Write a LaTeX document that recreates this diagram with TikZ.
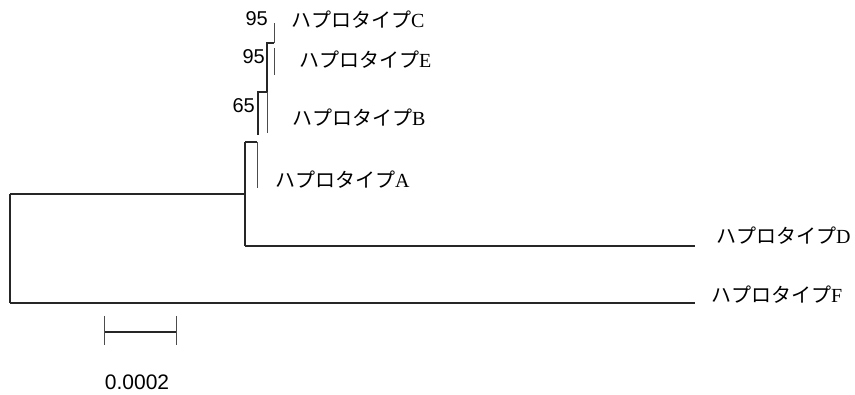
\documentclass[tikz,border=0pt]{standalone}
\usepackage{fontspec}
\setmainfont{Liberation Serif}
\newfontfamily\jpfont{Noto Sans CJK JP}
\newfontfamily\numfont{Liberation Sans}
\begin{document}
\begin{tikzpicture}[x=1pt,y=-1pt,
  br/.style={line width=1.1pt,black!85},
  lf/.style={line width=1pt,black!70},
  hap/.style={anchor=west,inner sep=0pt,font=\fontsize{20}{24}\selectfont},
  boot/.style={anchor=east,inner sep=0pt,font=\numfont\fontsize{20}{24}\selectfont},
  sc/.style={anchor=center,inner sep=0pt,font=\numfont\fontsize{21}{25}\selectfont}]
\useasboundingbox (0,0) rectangle (855,395);
% tree coordinates
\coordinate (rt) at (10,194);
\coordinate (rb) at (10,303);
\coordinate (n1) at (245,194);
\coordinate (n1t) at (245,142);
\coordinate (n1b) at (245,246);
\coordinate (Dend) at (695,246);
\coordinate (Fend) at (695,303);
\coordinate (Atop) at (257,142);
\coordinate (Abot) at (257,188);
\coordinate (Bl) at (258,135);
\coordinate (Btl) at (258,92);
\coordinate (Btr) at (267,92);
\coordinate (Bbot) at (267,133);
\coordinate (s1) at (267,43);
\coordinate (s2) at (274,43);
\coordinate (Ctop) at (274,23);
\coordinate (Et) at (274,48);
\coordinate (Eb) at (274,75);
% branches
\draw[br] (rt) -- (rb);
\draw[br] (rt) -- (n1);
\draw[br] (rb) -- (Fend);
\draw[br] (n1t) -- (n1b);
\draw[br] (n1b) -- (Dend);
\draw[br] (n1t) -- (Atop);
\draw[lf] (Atop) -- (Abot);
\draw[br] (Bl) -- (Btl) -- (Btr);
\draw[lf] (Btr) -- (Bbot);
\draw[br] (Btr) -- (s1) -- (s2);
\draw[lf] (s2) -- (Ctop);
\draw[lf] (Et) -- (Eb);
% labels
\node[hap] (lC) at (291,20) {{\jpfont ハプロタイプ}C};
\node[hap] (lE) at (299,60) {{\jpfont ハプロタイプ}E};
\node[hap] (lB) at (292,118) {{\jpfont ハプロタイプ}B};
\node[hap] (lA) at (275,180) {{\jpfont ハプロタイプ}A};
\node[hap] (lD) at (716,236) {{\jpfont ハプロタイプ}D};
\node[hap] (lF) at (711,295) {{\jpfont ハプロタイプ}F};
\node[boot] (b1) at (268,19) {95};
\node[boot] (b2) at (265,57) {95};
\node[boot] (b3) at (255,106) {65};
% scale bar
\coordinate (sl) at (104,332);
\coordinate (sr) at (176,332);
\coordinate (slt) at (104,316);
\coordinate (slb) at (104,345);
\coordinate (srt) at (176,316);
\coordinate (srb) at (176,345);
\draw[br] (sl) -- (sr);
\draw[lf] (slt) -- (slb);
\draw[lf] (srt) -- (srb);
\node[sc] (scl) at (137,382) {0.0002};
\end{tikzpicture}
\end{document}
